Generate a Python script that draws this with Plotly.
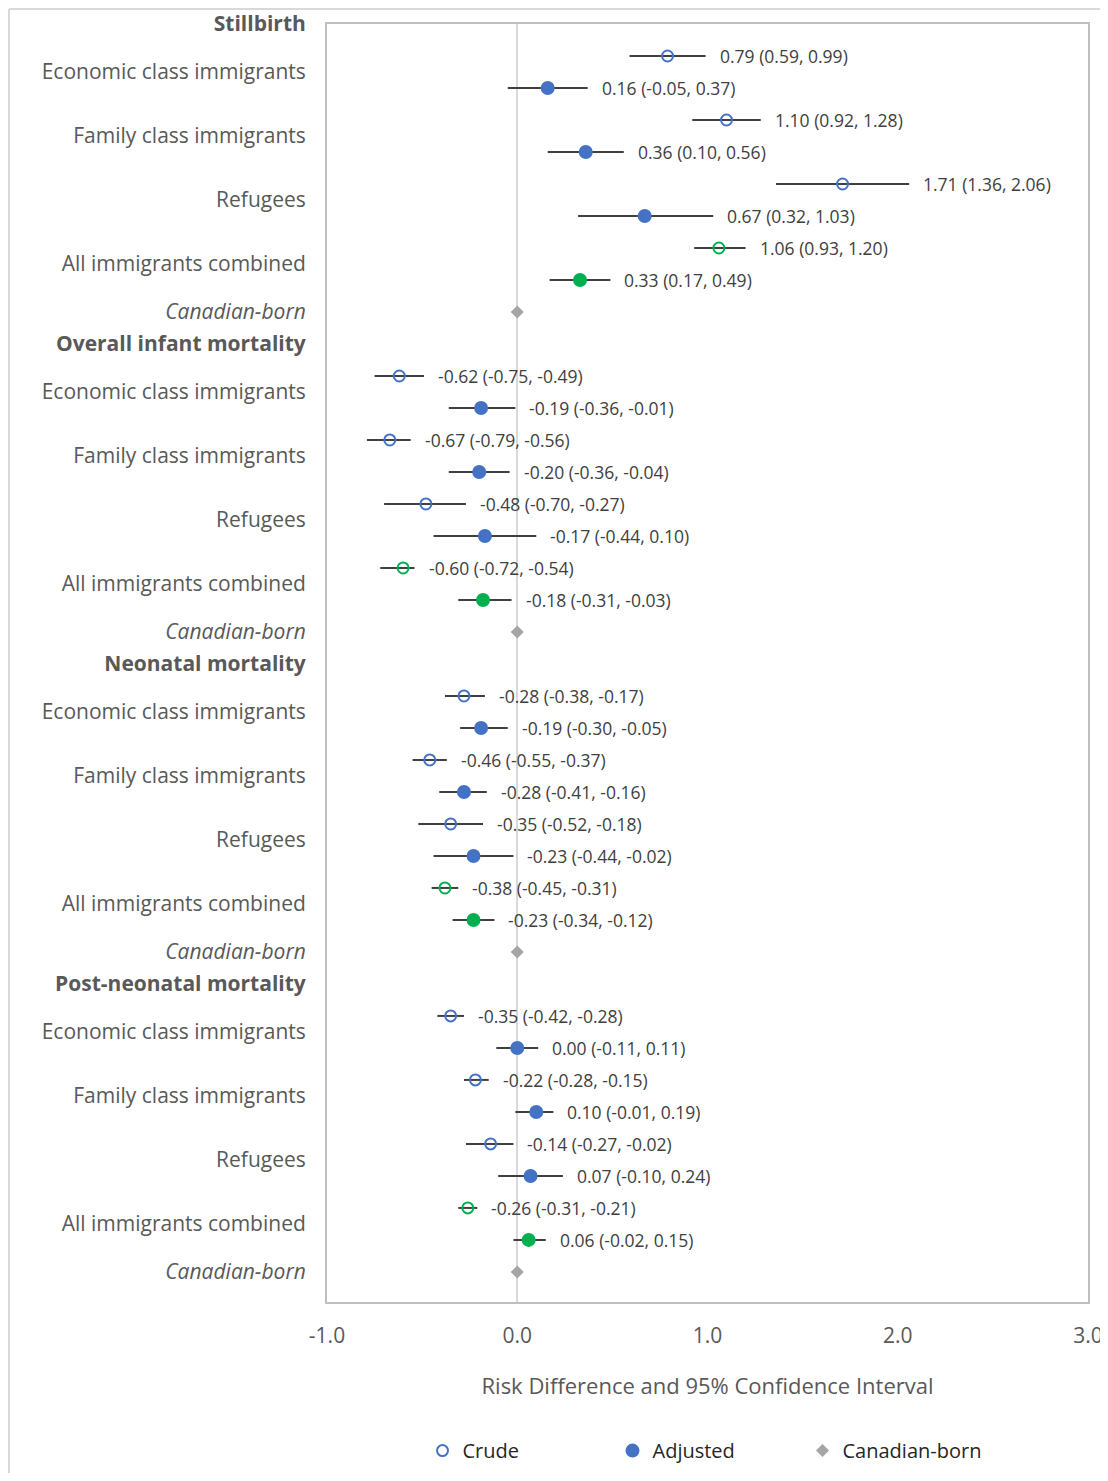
import plotly.graph_objects as go

# ---------------- data ----------------
outcomes = ["Stillbirth", "Overall infant mortality", "Neonatal mortality", "Post-neonatal mortality"]
groups = ["Economic class immigrants", "Family class immigrants", "Refugees", "All immigrants combined"]

# per outcome: for each group (crude, adjusted)
crude_est = [[0.79, 1.10, 1.71, 1.06],
             [-0.62, -0.67, -0.48, -0.60],
             [-0.28, -0.46, -0.35, -0.38],
             [-0.35, -0.22, -0.14, -0.26]]
crude_lo = [[0.59, 0.92, 1.36, 0.93],
            [-0.75, -0.79, -0.70, -0.72],
            [-0.38, -0.55, -0.52, -0.45],
            [-0.42, -0.28, -0.27, -0.31]]
crude_hi = [[0.99, 1.28, 2.06, 1.20],
            [-0.49, -0.56, -0.27, -0.54],
            [-0.17, -0.37, -0.18, -0.31],
            [-0.28, -0.15, -0.02, -0.21]]
adj_est = [[0.16, 0.36, 0.67, 0.33],
           [-0.19, -0.20, -0.17, -0.18],
           [-0.19, -0.28, -0.23, -0.23],
           [0.00, 0.10, 0.07, 0.06]]
adj_lo = [[-0.05, 0.16, 0.32, 0.17],
          [-0.36, -0.36, -0.44, -0.31],
          [-0.30, -0.41, -0.44, -0.34],
          [-0.11, -0.01, -0.10, -0.02]]
adj_hi = [[0.37, 0.56, 1.03, 0.49],
          [-0.01, -0.04, 0.10, -0.03],
          [-0.05, -0.16, -0.02, -0.12],
          [0.11, 0.19, 0.24, 0.15]]
crude_labels = [["0.79 (0.59, 0.99)", "1.10 (0.92, 1.28)", "1.71 (1.36, 2.06)", "1.06 (0.93, 1.20)"],
                ["-0.62 (-0.75, -0.49)", "-0.67 (-0.79, -0.56)", "-0.48 (-0.70, -0.27)", "-0.60 (-0.72, -0.54)"],
                ["-0.28 (-0.38, -0.17)", "-0.46 (-0.55, -0.37)", "-0.35 (-0.52, -0.18)", "-0.38 (-0.45, -0.31)"],
                ["-0.35 (-0.42, -0.28)", "-0.22 (-0.28, -0.15)", "-0.14 (-0.27, -0.02)", "-0.26 (-0.31, -0.21)"]]
adj_labels = [["0.16 (-0.05, 0.37)", "0.36 (0.10, 0.56)", "0.67 (0.32, 1.03)", "0.33 (0.17, 0.49)"],
              ["-0.19 (-0.36, -0.01)", "-0.20 (-0.36, -0.04)", "-0.17 (-0.44, 0.10)", "-0.18 (-0.31, -0.03)"],
              ["-0.19 (-0.30, -0.05)", "-0.28 (-0.41, -0.16)", "-0.23 (-0.44, -0.02)", "-0.23 (-0.34, -0.12)"],
              ["0.00 (-0.11, 0.11)", "0.10 (-0.01, 0.19)", "0.07 (-0.10, 0.24)", "0.06 (-0.02, 0.15)"]]
reference_value = 0.0
x_ticks = [-1.0, 0.0, 1.0, 2.0, 3.0]

# ---------------- styles ----------------
BLUE = "#4472C4"
GREEN = "#00B050"
GREY_M = "#A5A5A5"
CI_COL = "#404040"
FONT = "Open Sans"

# figure geometry (page body has an 8px default margin)
W, H = 1100, 1465
ML, MR, MT, MB = 319, 20, 16, 171
PW = W - ML - MR
PH = H - MT - MB

# ---------------- build rows ----------------
rows = {"blue_c": [], "blue_a": [], "green_c": [], "green_a": [], "cb": []}
annots = []
tickvals, ticktext = [], []
for o, outcome in enumerate(outcomes):
    base = o * 10
    tickvals.append(base + 0.001)
    ticktext.append("<b>%s</b>" % outcome)
    for g, grp in enumerate(groups):
        yc = base + 1 + 2 * g
        ya = yc + 1
        tickvals.append(yc + 0.5)
        ticktext.append(grp)
        kc = "green_c" if g == 3 else "blue_c"
        ka = "green_a" if g == 3 else "blue_a"
        rows[kc].append((crude_est[o][g], crude_lo[o][g], crude_hi[o][g], yc))
        rows[ka].append((adj_est[o][g], adj_lo[o][g], adj_hi[o][g], ya))
        annots.append((crude_hi[o][g], yc, crude_labels[o][g]))
        annots.append((adj_hi[o][g], ya, adj_labels[o][g]))
    tickvals.append(base + 9)
    ticktext.append("<i>Canadian-born</i>")
    rows["cb"].append((reference_value, base + 9))

fig = go.Figure()


def add_ci_trace(key, color, filled, name, showlegend):
    data = rows[key]
    xs = [d[0] for d in data]
    ys = [d[3] for d in data]
    plus = [d[2] - d[0] for d in data]
    minus = [d[0] - d[1] for d in data]
    fig.add_trace(go.Scatter(
        x=xs, y=ys, mode="markers", name=name, showlegend=showlegend,
        marker=dict(symbol="circle" if filled else "circle-open", size=12 if filled else 11,
                    color=color, line=dict(color=color, width=2)),
        error_x=dict(type="data", symmetric=False, array=plus, arrayminus=minus,
                     color=CI_COL, thickness=2, width=0),
    ))


add_ci_trace("blue_c", BLUE, False, "Crude", True)
add_ci_trace("blue_a", BLUE, True, "Adjusted", True)
add_ci_trace("green_c", GREEN, False, "Crude (all)", False)
add_ci_trace("green_a", GREEN, True, "Adjusted (all)", False)
fig.add_trace(go.Scatter(
    x=[d[0] for d in rows["cb"]], y=[d[1] for d in rows["cb"]], mode="markers",
    name="Canadian-born", marker=dict(symbol="diamond", size=10, color=GREY_M),
))

for x, y, t in annots:
    fig.add_annotation(x=x, y=y, text=t, showarrow=False, xanchor="left", yanchor="middle",
                       xshift=12, font=dict(family=FONT, size=17.5, color=CI_COL))

# outer chart border (left and top)
bx = (1 - ML) / PW
by = (PH + MT - 1) / PH
fig.add_shape(type="line", xref="paper", yref="paper", x0=bx, x1=bx, y0=by, y1=-(MB / PH),
              line=dict(color="#D9D9D9", width=2))
fig.add_shape(type="line", xref="paper", yref="paper", x0=bx, x1=1 + MR / PW, y0=by, y1=by,
              line=dict(color="#D9D9D9", width=2))

fig.update_layout(
    width=W, height=H,
    margin=dict(l=ML, r=MR, t=MT, b=MB, autoexpand=False),
    paper_bgcolor="white", plot_bgcolor="white",
    font=dict(family=FONT, color="#595959"),
    xaxis=dict(range=[-1.0, 3.0], tickvals=x_ticks, ticktext=["%.1f" % v for v in x_ticks],
               showgrid=False, zeroline=True, zerolinecolor="#D9D9D9", zerolinewidth=2,
               showline=True, mirror=True, linecolor="#BFBFBF", linewidth=2,
               ticks="", tickfont=dict(size=21, color="#595959"), ticklabelstandoff=14,
               title=dict(text="Risk Difference and 95% Confidence Interval",
                          font=dict(size=22, color="#595959"), standoff=30)),
    yaxis=dict(range=[39.94, 0], tickvals=tickvals, ticktext=ticktext,
               showgrid=False, zeroline=False, showline=True, mirror=True,
               linecolor="#BFBFBF", linewidth=2, ticks="",
               tickfont=dict(size=21, color="#595959"), ticklabelstandoff=15),
    legend=dict(orientation="h", x=0.5, xanchor="center", y=-0.101, yanchor="top",
                font=dict(size=20, color="#262626"), entrywidth=145, itemwidth=30),
)

fig.write_html("out.html")
